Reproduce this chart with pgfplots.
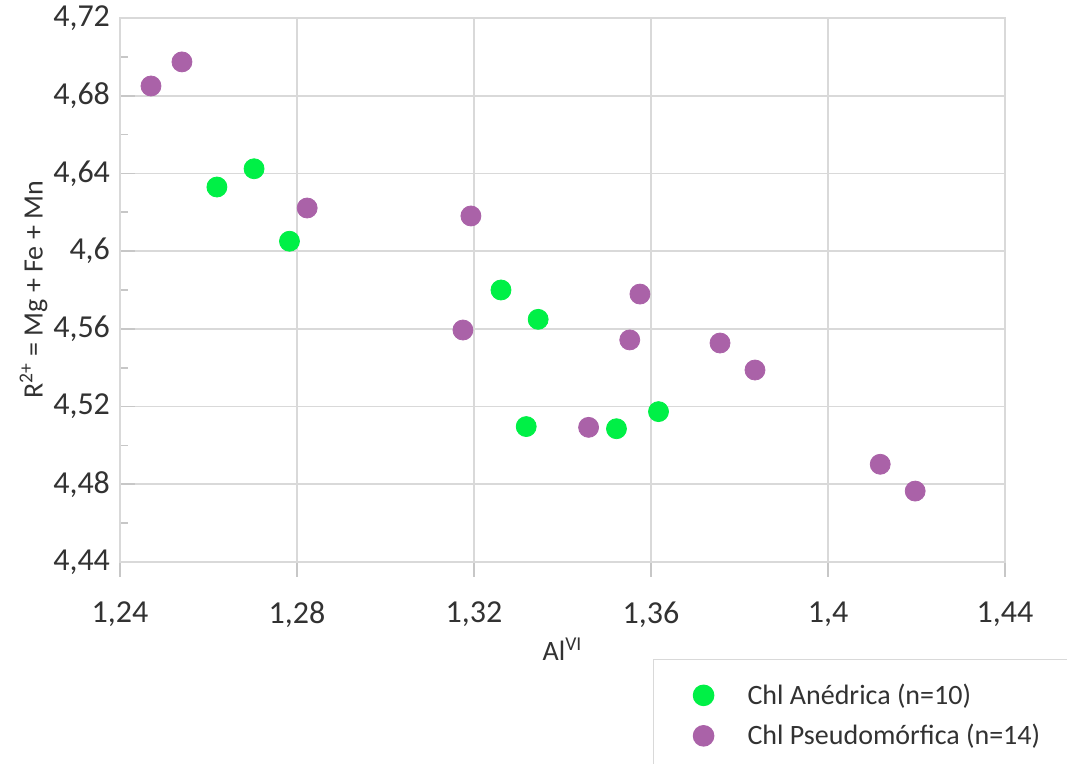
\documentclass[border=0pt]{standalone}
\usepackage{fontspec}
\setmainfont{Carlito}
\usepackage{pgfplots}
\pgfplotsset{compat=1.18}
\definecolor{anegreen}{RGB}{0,240,70}
\definecolor{pseudo}{RGB}{170,98,168}
\definecolor{gridgray}{RGB}{217,217,217}
\definecolor{txt}{RGB}{50,50,50}
\begin{document}
\begin{tikzpicture}
\useasboundingbox (-60pt,-101pt) rectangle (473.5pt,281pt);
\begin{axis}[
  at={(0pt,0pt)}, anchor=south west,
  scale only axis,
  width=442.5pt, height=272pt,
  xmin=1.24, xmax=1.44, ymin=4.44, ymax=4.72,
  xtick={1.24,1.28,1.32,1.36,1.40,1.44},
  ytick={4.44,4.48,4.52,4.56,4.60,4.64,4.68,4.72},
  minor y tick num=1,
  xtick align=outside, ytick align=inside,
  major tick length=7.5pt, minor tick length=4pt,
  tick style={gridgray!80!gray, line width=0.8pt},
  xtick pos=bottom, ytick pos=left,
  grid=major,
  major grid style={gridgray, line width=0.8pt},
  axis line style={gridgray, line width=0.8pt},
  /pgf/number format/.cd, use comma, fixed, precision=2, assume math mode=true,
  /pgfplots/.cd,
  tick label style={font=\fontsize{16}{18}\selectfont, text=txt},
  xticklabel style={yshift=-9pt},
  yticklabel style={xshift=-1.5pt},
  label style={font=\fontsize{14}{16}\selectfont, text=txt},
  xlabel={Al\textsuperscript{VI}},
  ylabel={R\textsuperscript{2+} = Mg + Fe + Mn},
  xlabel style={yshift=2pt},
  ylabel style={yshift=-4pt},
  legend cell align=left,
  legend image code/.code={\draw[#1] plot coordinates {(0pt,0pt)}; \path[draw=none,fill=none] (-5pt,0pt) rectangle (20pt,0.1pt);},
  legend style={at={(0.602,-0.178)}, anchor=north west, draw=gridgray, line width=0.8pt,
    font=\fontsize{14}{16}\selectfont, text=txt,
    inner xsep=20pt, inner ysep=10pt, row sep=4.5pt},
]
\addplot[only marks, mark=*, mark size=5pt, color=anegreen] coordinates {
(1.2619,4.633) (1.2703,4.6424) (1.2783,4.6051) (1.3261,4.580) (1.3345,4.5649)
(1.3318,4.5097) (1.3522,4.5086) (1.3617,4.5174)
};
\addlegendentry{Chl Anédrica (n=10)}
\addplot[only marks, mark=*, mark size=5pt, color=pseudo] coordinates {
(1.2470,4.685) (1.2540,4.6974) (1.2823,4.6222) (1.3193,4.6181) (1.3175,4.5594)
(1.3575,4.5779) (1.3552,4.5543) (1.3459,4.5093) (1.3756,4.5527) (1.3835,4.5388)
(1.4118,4.4903) (1.4197,4.4765)
};
\addlegendentry{Chl Pseudomórfica (n=14)}
\end{axis}
\end{tikzpicture}
\end{document}
